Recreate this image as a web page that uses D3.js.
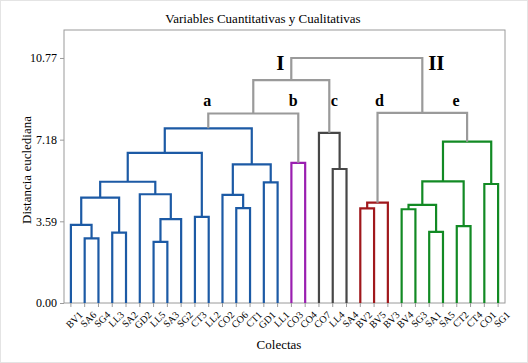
<!DOCTYPE html>
<html>
<head>
<meta charset="utf-8">
<script src="https://cdn.jsdelivr.net/npm/d3@7"></script>
<style>
  body { margin: 0; background: #fff; }
  text { font-family: "Liberation Serif", "DejaVu Serif", serif; fill: #000; }
</style>
</head>
<body>
<svg id="chart" width="528" height="363"></svg>
<script>
// Leaves in display order
const leaves = ["BV1","SA6","SG4","LL3","SA2","GD2","LL5","SA3","SG2","CT3","LL2",
  "CO2","CO6","CT1","GD1","LL1","CO3","CO4","CO7","LL4","SA4",
  "BV2","BV5","BV3","BV4","SG3","SA1","SA5","CT2","CT4","CO1","SG1"];

// group of each leaf (a..e)
const leafGroup = ["a","a","a","a","a","a","a","a","a","a","a",
  "a","a","a","a","a","b","b","c","c","c",
  "d","d","d","e","e","e","e","e","e","e","e"];

// linkage: ids < 32 are leaves, ids >= 32 are earlier merges
const mergeLeft   = [6, 1, 3, 26, 28, 0, 32, 9, 24, 21, 12, 40, 41, 37, 11, 5, 30, 14, 45, 43, 19, 46, 16, 50, 51, 18, 55, 58, 44, 59, 61];
const mergeRight  = [7, 2, 4, 27, 29, 33, 8, 10, 25, 22, 13, 35, 23, 34, 42, 38, 31, 15, 47, 36, 20, 49, 17, 39, 48, 52, 53, 54, 56, 57, 60];
const mergeHeight = [2.69, 2.84, 3.09, 3.13, 3.38, 3.43, 3.69, 3.79, 4.12, 4.16, 4.17, 4.31, 4.41, 4.63, 4.75, 4.78,
  5.23, 5.30, 5.33, 5.35, 5.89, 6.09, 6.16, 6.60, 7.09, 7.48, 7.68, 8.33, 8.36, 9.80, 10.77];

const yTicks = [0, 3.59, 7.18, 10.77];

const groupColors = { a: "#1c5aa5", b: "#9a1fb0", c: "#474747", d: "#a0181c", e: "#128a24" };
const linkGrey = "#9a9a9a";

// cluster labels: text, merge id the label sits over
const clusterLabels = [
  { text: "I",  node: 61, level: 10.24, dx: -11, size: 21 },
  { text: "II", node: 60, level: 10.24, dx: 14,  size: 21 },
  { text: "a",  node: 58, level: 8.66, dx: -1,  size: 16 },
  { text: "b",  node: 54, level: 8.66, dx: -5,  size: 16 },
  { text: "c",  node: 57, level: 8.66, dx: 5,   size: 16 },
  { text: "d",  node: 44, level: 8.66, dx: 2,   size: 16 },
  { text: "e",  node: 56, level: 8.66, dx: -11, size: 16 }
];

const svg = d3.select("#chart");
const W = 528, H = 363;
const plot = { left: 64, right: 505, top: 30, bottom: 303 };

// outer dotted border
svg.append("rect").attr("x", 0.5).attr("y", 0.5).attr("width", W - 1).attr("height", H - 1)
  .attr("fill", "none").attr("stroke", "#c8c8c8").attr("stroke-dasharray", "1,1");

const x = d3.scaleBand().domain(leaves).range([plot.left, plot.right]).padding(0);
const y = d3.scaleLinear().domain([0, 12]).range([plot.bottom, plot.top]);

// build node positions
const nodes = leaves.map((name, i) => ({ id: i, x: x(name) + x.bandwidth() / 2, h: 0, group: leafGroup[i] }));
mergeLeft.forEach((l, i) => {
  const a = nodes[l], b = nodes[mergeRight[i]];
  nodes.push({
    id: leaves.length + i,
    x: (a.x + b.x) / 2,
    h: mergeHeight[i],
    left: a, right: b,
    group: a.group === b.group ? a.group : null
  });
});

// frame
svg.append("rect")
  .attr("x", plot.left).attr("y", plot.top)
  .attr("width", plot.right - plot.left).attr("height", plot.bottom - plot.top)
  .attr("fill", "none").attr("stroke", "#9a9a9a").attr("stroke-width", 1);

// y axis
const yAxis = svg.append("g").attr("transform", `translate(${plot.left},0)`)
  .call(d3.axisLeft(y).tickValues(yTicks).tickFormat(d3.format(".2f")).tickSize(4).tickPadding(3));
yAxis.select(".domain").remove();
yAxis.selectAll(".tick line").attr("stroke", "#9a9a9a");
yAxis.selectAll(".tick text").style("font-family", "Liberation Serif").style("font-size", "12px").attr("fill", "#000");

// x axis
const xAxis = svg.append("g").attr("transform", `translate(0,${plot.bottom})`)
  .call(d3.axisBottom(x).tickSize(4).tickPadding(2));
xAxis.select(".domain").remove();
xAxis.selectAll(".tick line").attr("stroke", "#9a9a9a");
xAxis.selectAll(".tick text")
  .style("font-family", "Liberation Serif").style("font-size", "10px").attr("fill", "#000")
  .attr("text-anchor", "end")
  .attr("transform", "translate(4,4) rotate(-45)")
  .attr("dy", "0.6em");

// dendrogram links (grey above the five clusters)
const merges = nodes.slice(leaves.length);
svg.append("g").selectAll("path")
  .data(merges)
  .join("path")
  .attr("fill", "none")
  .attr("stroke-width", 2.2)
  .attr("stroke-linejoin", "miter")
  .attr("stroke", d => d.group ? groupColors[d.group] : linkGrey)
  .attr("d", d => `M${d.left.x},${y(d.left.h)}V${y(d.h)}H${d.right.x}V${y(d.right.h)}`);

// cluster labels
svg.append("g").selectAll("text")
  .data(clusterLabels)
  .join("text")
  .attr("x", d => nodes[d.node].x + d.dx)
  .attr("y", d => y(d.level))
  .attr("text-anchor", "middle")
  .style("font-weight", "bold")
  .style("font-size", d => d.size + "px")
  .text(d => d.text);

// titles
svg.append("text").attr("x", 263).attr("y", 23).attr("text-anchor", "middle")
  .style("font-size", "13px").text("Variables Cuantitativas y Cualitativas");

svg.append("text").attr("transform", "translate(31,170) rotate(-90)").attr("text-anchor", "middle")
  .style("font-size", "13px").text("Distancia euclediana");

svg.append("text").attr("x", 279).attr("y", 349).attr("text-anchor", "middle")
  .style("font-size", "13px").text("Colectas");
</script>
</body>
</html>
